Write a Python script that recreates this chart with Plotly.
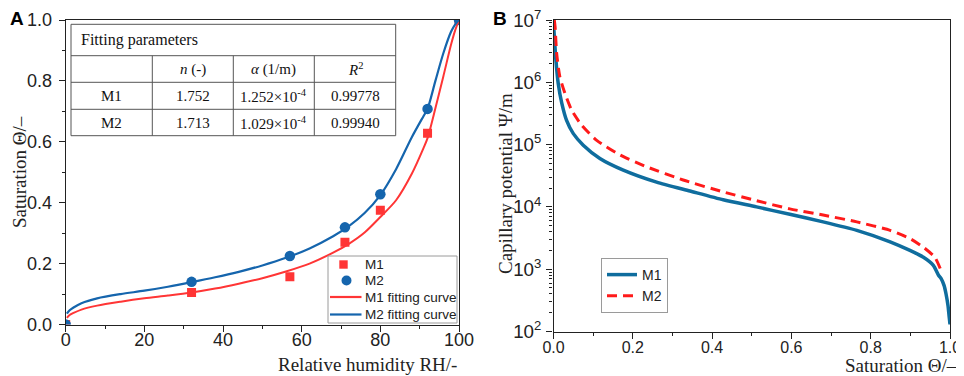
import plotly.graph_objects as go

# The page body has an 8px default margin, so the figure is sized to fill the
# remaining 956x368 area of the 964x376 window.
PAGE_W, PAGE_H = 964, 376
OX, OY = 8, 8
W, H = PAGE_W - OX, PAGE_H - OY

# ---------------- Panel A data ----------------
rh_pts = [0, 32, 57, 71, 80, 92, 100]
m1_pts = [0.0, 0.105, 0.157, 0.27, 0.375, 0.628, 1.0]
m2_pts = [0.0, 0.14, 0.225, 0.319, 0.428, 0.708, 1.0]

rh_fit = [0.3, 1, 2, 4, 8, 14, 20, 26, 32, 38, 44, 50, 56, 62, 68, 72, 76,
          80, 84, 88, 91, 92, 94, 96, 98, 99, 100]
m1_fit = [0.022, 0.031, 0.038, 0.049, 0.062, 0.075, 0.086, 0.095, 0.105, 0.118,
          0.134, 0.152, 0.174, 0.2, 0.236, 0.265, 0.302, 0.353, 0.408, 0.495,
          0.58, 0.612, 0.71, 0.814, 0.92, 0.965, 1.0]
m2_fit = [0.036, 0.047, 0.056, 0.07, 0.086, 0.1, 0.111, 0.124, 0.139, 0.155,
          0.173, 0.194, 0.219, 0.25, 0.29, 0.323, 0.366, 0.425, 0.51, 0.615,
          0.685, 0.708, 0.8, 0.89, 0.962, 0.985, 1.0]

x_ticks_a = [0, 20, 40, 60, 80, 100]
y_ticks_a = [0.0, 0.2, 0.4, 0.6, 0.8, 1.0]

legend_a_names = ["M1", "M2", "M1 fitting curve", "M2 fitting curve"]

# table content
tbl_head = "Fitting parameters"
tbl_cols = ["<i>n</i> (-)", "<i>α</i> (1/m)", "<i>R</i><sup>2</sup>"]
tbl_rows = ["M1", "M2"]
tbl_n = ["1.752", "1.713"]
tbl_alpha = ["1.252×10<sup>-4</sup>", "1.029×10<sup>-4</sup>"]
tbl_r2 = ["0.99778", "0.99940"]

# ---------------- Panel B data ----------------
theta_m1 = [0.001, 0.006, 0.012, 0.021, 0.033, 0.05, 0.075, 0.117, 0.176, 0.26,
            0.344, 0.428, 0.512, 0.596, 0.68, 0.765, 0.849, 0.899, 0.933, 0.958,
            0.971, 0.978, 0.985, 0.99, 0.995, 0.998, 1.0]
psi_m1 = [7.0e6, 2.3e6, 9.5e5, 4.6e5, 2.45e5, 1.5e5, 9.8e4, 6.0e4, 3.9e4, 2.5e4,
          1.8e4, 1.3e4, 1.0e4, 7.6e3, 5.75e3, 4.2e3, 2.75e3, 2.0e3, 1.55e3, 1.15e3,
          8.0e2, 7.0e2, 5.5e2, 4.0e2, 2.6e2, 1.7e2, 1.3e2]

theta_m2 = [0.002, 0.004, 0.008, 0.016, 0.029, 0.046, 0.071, 0.109, 0.168, 0.235,
            0.327, 0.428, 0.512, 0.596, 0.68, 0.765, 0.849, 0.899, 0.933, 0.962,
            0.976]
psi_m2 = [1.0e7, 7.8e6, 2.9e6, 1.23e6, 6.6e5, 3.55e5, 2.05e5, 1.17e5, 6.8e4, 4.4e4,
          2.7e4, 1.74e4, 1.26e4, 9.3e3, 7.4e3, 5.75e3, 4.2e3, 3.1e3, 2.25e3, 1.55e3,
          1.0e3]

x_ticks_b = [0.0, 0.2, 0.4, 0.6, 0.8, 1.0]

# ---------------- styles ----------------
RED_A = "#ff3535"
BLUE_A = "#1565ad"
BLUE_B = "#0f6d9e"
RED_B = "#ff1a1a"
SANS = "Liberation Sans, Arial, sans-serif"
SERIF = "Liberation Serif, Times New Roman, serif"
AX = "#222222"


def px(x):
    """page pixel x -> paper fraction"""
    return (x - OX) / W


def py(y):
    """page pixel y (from top) -> paper fraction"""
    return 1 - (y - OY) / H


fig = go.Figure()

# Panel A traces
fig.add_trace(go.Scatter(x=rh_pts, y=m1_pts, mode="markers", name=legend_a_names[0],
                         marker=dict(symbol="square", size=9, color=RED_A),
                         xaxis="x", yaxis="y", showlegend=False))
fig.add_trace(go.Scatter(x=rh_pts, y=m2_pts, mode="markers", name=legend_a_names[1],
                         marker=dict(symbol="circle", size=10.5, color=BLUE_A),
                         xaxis="x", yaxis="y", showlegend=False))
fig.add_trace(go.Scatter(x=rh_fit, y=m1_fit, mode="lines", name=legend_a_names[2],
                         line=dict(color=RED_A, width=2, shape="spline", smoothing=0.8),
                         xaxis="x", yaxis="y", showlegend=False))
fig.add_trace(go.Scatter(x=rh_fit, y=m2_fit, mode="lines", name=legend_a_names[3],
                         line=dict(color=BLUE_A, width=2.2, shape="spline", smoothing=0.8),
                         xaxis="x", yaxis="y", showlegend=False))

# Panel B traces
fig.add_trace(go.Scatter(x=theta_m1, y=psi_m1, mode="lines", name="M1",
                         line=dict(color=BLUE_B, width=3.5, shape="spline", smoothing=0.6),
                         xaxis="x2", yaxis="y2", legend="legend2"))
fig.add_trace(go.Scatter(x=theta_m2, y=psi_m2, mode="lines", name="M2",
                         line=dict(color=RED_B, width=3, dash="10px,6px",
                                   shape="spline", smoothing=0.6),
                         xaxis="x2", yaxis="y2", legend="legend2"))

common_axis = dict(showline=True, mirror=True, linecolor=AX, linewidth=1.3,
                   ticks="outside", ticklen=6, tickwidth=1.2, tickcolor=AX,
                   showgrid=False, zeroline=False, automargin=False,
                   ticklabeloverflow="allow")

fig.update_layout(
    template="none",
    width=W, height=H,
    margin=dict(l=0, r=0, t=0, b=0, pad=0),
    paper_bgcolor="white", plot_bgcolor="white",
    xaxis=dict(domain=[px(65.7), px(459)], range=[0, 100], anchor="y",
               tickvals=x_ticks_a, ticktext=[str(v) for v in x_ticks_a],
               minor=dict(ticks="outside", ticklen=3, dtick=10, tickcolor=AX),
               ticklabelstandoff=-7,
               tickfont=dict(family=SANS, size=18, color=AX), **common_axis),
    yaxis=dict(domain=[py(324.5), py(20)], range=[0, 1], anchor="x",
               tickvals=y_ticks_a, ticktext=["%.1f" % v for v in y_ticks_a],
               minor=dict(ticks="outside", ticklen=3, dtick=0.1, tickcolor=AX),
               ticklabelstandoff=3,
               tickfont=dict(family=SANS, size=18, color=AX), **common_axis),
    xaxis2=dict(domain=[px(553.5), px(950)], range=[0, 1], anchor="y2",
                tickvals=x_ticks_b, ticktext=["%.1f" % v for v in x_ticks_b],
                minor=dict(ticks="outside", ticklen=3, dtick=0.1, tickcolor=AX),
                ticklabelstandoff=-5,
                tickfont=dict(family=SANS, size=16, color=AX), **common_axis),
    yaxis2=dict(domain=[py(331.5), py(20)], type="log", range=[2, 7], anchor="x2",
                dtick=1, exponentformat="power",
                minor=dict(ticks="outside", ticklen=3, dtick="D1", tickcolor=AX),
                ticklabelstandoff=2,
                tickfont=dict(family=SANS, size=15, color=AX), **common_axis),
    legend2=dict(x=px(601), y=py(258), xanchor="left", yanchor="top",
                 bgcolor="white", bordercolor="#9a9a9a", borderwidth=1,
                 font=dict(family=SANS, size=14, color=AX), tracegroupgap=0),
    showlegend=True,
)

annotations = []
shapes = []

# panel letters
for lx, letter in [(17, "A"), (500, "B")]:
    annotations.append(dict(x=px(lx), y=py(8), text="<b>%s</b>" % letter, showarrow=False,
                            xanchor="center", yanchor="top", height=18, valign="middle",
                            borderpad=0,
                            font=dict(family=SANS, size=19, color="black")))
# axis titles
annotations.append(dict(x=px(459), y=py(364), text="Relative humidity RH/-",
                        xanchor="right", yanchor="middle", showarrow=False,
                        font=dict(family=SERIF, size=19, color=AX)))
annotations.append(dict(x=px(19), y=py(172), text="Saturation Θ/–", textangle=-90,
                        xanchor="center", yanchor="middle", showarrow=False,
                        font=dict(family=SERIF, size=19, color=AX)))
annotations.append(dict(x=px(959), y=py(365), text="Saturation Θ/–",
                        xanchor="right", yanchor="middle", showarrow=False,
                        font=dict(family=SERIF, size=19, color=AX)))
annotations.append(dict(x=px(505), y=py(184), text="Capillary potential Ψ/m", textangle=-90,
                        xanchor="center", yanchor="middle", showarrow=False,
                        font=dict(family=SERIF, size=19, color=AX)))

# ---- legend box for panel A ----
lg_l, lg_r, lg_t, lg_b = 328, 457, 256, 323
shapes.append(dict(type="rect", xref="paper", yref="paper",
                   x0=px(lg_l), x1=px(lg_r), y0=py(lg_b), y1=py(lg_t),
                   line=dict(color="#9a9a9a", width=1), fillcolor="white", layer="above"))
item_y = [264.5, 280.5, 297, 314.5]
# square glyph
shapes.append(dict(type="rect", xref="paper", yref="paper",
                   x0=px(339.3), x1=px(347.7), y0=py(item_y[0] + 4.2), y1=py(item_y[0] - 4.2),
                   line=dict(width=0), fillcolor=RED_A, layer="above"))
# circle glyph
shapes.append(dict(type="circle", xref="paper", yref="paper",
                   x0=px(341.5), x1=px(351.5), y0=py(item_y[1] + 5), y1=py(item_y[1] - 5),
                   line=dict(width=0), fillcolor=BLUE_A, layer="above"))
# line glyphs
for yy, col in zip(item_y[2:], [RED_A, BLUE_A]):
    shapes.append(dict(type="line", xref="paper", yref="paper",
                       x0=px(330), x1=px(361.5), y0=py(yy), y1=py(yy),
                       line=dict(color=col, width=2.2), layer="above"))
for yy, name in zip(item_y, legend_a_names):
    annotations.append(dict(x=px(362.5), y=py(yy), text=name, xanchor="left",
                            yanchor="middle", showarrow=False,
                            font=dict(family=SANS, size=13.5, color=AX)))

# ---- table ----
t_left, t_right = 71, 395.7
t_rows_y = [24.3, 55.7, 82.3, 109.3, 135.7]
t_cols_x = [152.3, 233.3, 314.3]
LC = "#555555"
shapes.append(dict(type="rect", xref="paper", yref="paper",
                   x0=px(t_left), x1=px(t_right), y0=py(t_rows_y[-1]), y1=py(t_rows_y[0]),
                   line=dict(color=LC, width=1), fillcolor="white", layer="below"))
for yy in t_rows_y[1:-1]:
    shapes.append(dict(type="line", xref="paper", yref="paper",
                       x0=px(t_left), x1=px(t_right), y0=py(yy), y1=py(yy),
                       line=dict(color=LC, width=1)))
for xx in t_cols_x:
    shapes.append(dict(type="line", xref="paper", yref="paper",
                       x0=px(xx), x1=px(xx), y0=py(t_rows_y[1]), y1=py(t_rows_y[-1]),
                       line=dict(color=LC, width=1)))

TF = dict(family=SERIF, size=15, color="#111")
annotations.append(dict(x=px(79), y=py((t_rows_y[0] + t_rows_y[1]) / 2), text=tbl_head,
                        xanchor="left", yanchor="middle", showarrow=False,
                        font=dict(family=SERIF, size=16, color="#111")))
col_centers = [(t_left + t_cols_x[0]) / 2, (t_cols_x[0] + t_cols_x[1]) / 2,
               (t_cols_x[1] + t_cols_x[2]) / 2, (t_cols_x[2] + t_right) / 2]
yc = (t_rows_y[1] + t_rows_y[2]) / 2
for c, txt in zip(col_centers[1:], tbl_cols):
    annotations.append(dict(x=px(c), y=py(yc), text=txt, showarrow=False,
                            xanchor="center", yanchor="middle", font=TF))
for i, name in enumerate(tbl_rows):
    yc = (t_rows_y[2 + i] + t_rows_y[3 + i]) / 2
    for c, txt in zip(col_centers, [name, tbl_n[i], tbl_alpha[i], tbl_r2[i]]):
        annotations.append(dict(x=px(c), y=py(yc), text=txt, showarrow=False,
                                xanchor="center", yanchor="middle", font=TF))

for a in annotations:
    a.setdefault("xref", "paper")
    a.setdefault("yref", "paper")

fig.update_layout(annotations=annotations, shapes=shapes)

fig.write_html("out.html")
